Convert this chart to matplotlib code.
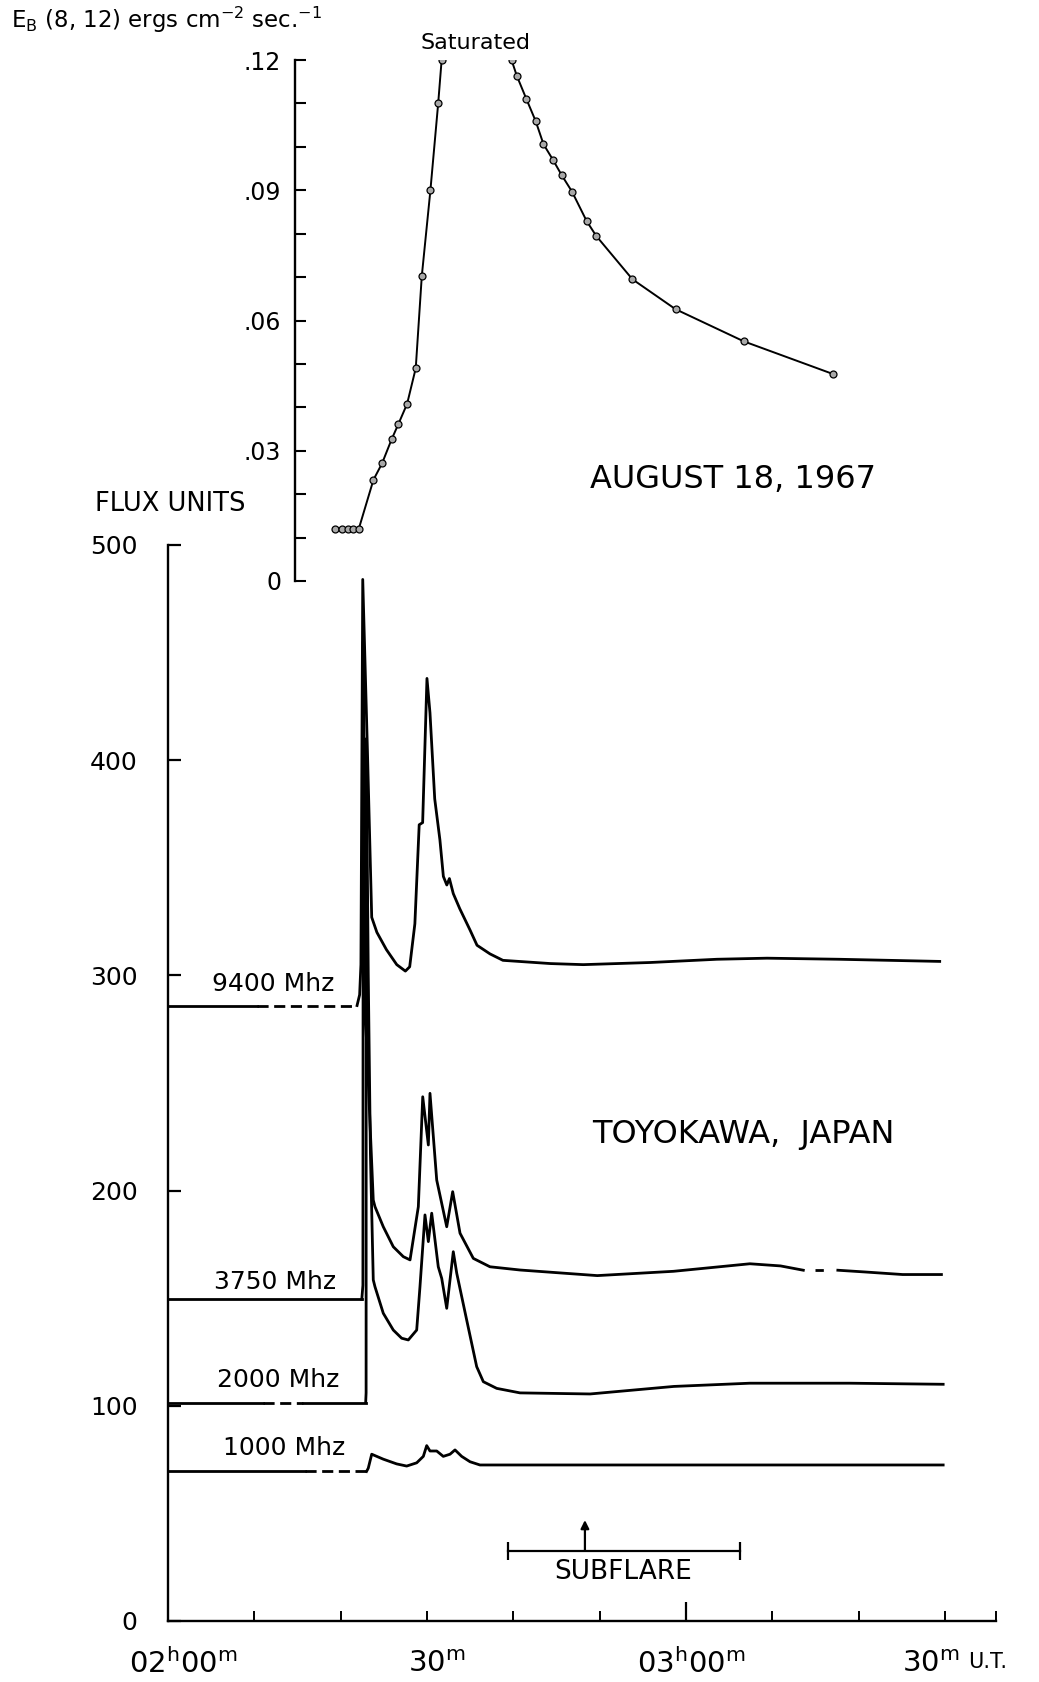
import numpy as np
import matplotlib.pyplot as plt

# all times are minutes after 02h00m U.T.

# soft X-ray flux E_B (8,12) in ergs cm^-2 sec^-1 (top panel)
xray_rise_t = [19.3, 20.1, 20.8, 21.4, 22.1, 23.8, 24.8, 25.9, 26.7, 27.7,
               28.7, 29.4, 30.4, 31.3, 31.7]
xray_rise_v = [0.012, 0.012, 0.012, 0.012, 0.012, 0.0233, 0.0271, 0.0326,
               0.0362, 0.0408, 0.049, 0.0702, 0.090, 0.110, 0.120]
xray_fall_t = [39.8, 40.4, 41.5, 42.6, 43.5, 44.6, 45.6, 46.8, 48.5, 49.6,
               53.8, 58.8, 66.7, 77.0]
xray_fall_v = [0.120, 0.1164, 0.1111, 0.1059, 0.1006, 0.097, 0.0935, 0.0897,
               0.0829, 0.0795, 0.0695, 0.0626, 0.0552, 0.0477]

# radio flux (flux units), Toyokawa
freq_labels = ['9400 Mhz', '3750 Mhz', '2000 Mhz', '1000 Mhz']
pre_levels = [286, 149.5, 101.5, 69.5]
# stretch of the pre-burst record that is drawn dashed
dashed_spans = [(10.3, 21.9), None, (11.0, 15.6), (15.9, 23.0)]

t9400 = [21.9, 22.2, 22.35, 22.56, 23.1, 23.6, 24.2, 25.3, 26.5, 27.5, 28.0,
         28.6, 29.1, 29.5, 30.0, 30.35, 30.9, 31.5, 31.9, 32.3, 32.6, 33.05,
         33.8, 35.0, 35.8, 37.3, 38.8, 44.3, 48.1, 55.9, 63.6, 69.4, 77.7, 89.4]
v9400 = [286, 291, 305, 484, 405, 327, 320, 312, 305, 302, 304,
         324, 370, 371, 438, 422, 382, 363, 346, 342, 345, 338,
         331, 321, 314, 310, 307, 305.5, 305, 306, 307.5, 308, 307.5, 306.5]

t3750 = [22.45, 22.58, 22.62, 22.9, 23.78, 23.98, 24.94, 26.1, 27.26, 28.04,
         29.0, 29.51, 30.16, 30.35, 31.13, 32.29, 32.98, 33.83, 35.37, 37.3,
         40.78, 49.73, 58.57, 67.41, 70.96, 73.6]
v3750 = [149.5, 156, 455, 279, 195.6, 192.5, 183.2, 173.9, 169.3, 167.8,
         192.5, 243.6, 221.2, 245.2, 204.9, 183.2, 199.5, 180.2, 168.5, 164.6,
         163.1, 160.5, 162.5, 166, 165, 163]
t3750_late = [77.6, 80.7, 85.1, 89.6]
v3750_late = [163, 162.2, 161, 161]
t3750_dash = [75.0, 76.4]
v3750_dash = [163, 163]

t2000 = [22.9, 22.95, 22.97, 23.2, 23.45, 23.78, 23.98, 24.94, 26.1, 27.07,
         27.84, 28.81, 29.19, 29.77, 30.16, 30.55, 31.31, 31.71, 32.29, 33.05,
         33.45, 34.6, 35.76, 36.53, 38.08, 40.78, 48.9, 58.6, 67.4, 79.0, 89.8]
v2000 = [101.5, 106, 410, 300, 217, 158.5, 155.3, 143, 135.2, 131.4,
         130.6, 135.2, 155.3, 188.7, 176.3, 189.5, 164.6, 159.2, 145.3, 171.6,
         161.6, 139.9, 118.2, 111.2, 108.1, 106, 105.5, 109, 110.5, 110.5, 110]

t1000 = [23.0, 23.2, 23.6, 24.94, 26.49, 27.65, 28.81, 29.58, 29.97, 30.35,
         31.13, 31.89, 32.67, 33.25, 34.02, 34.99, 36.14, 89.8]
v1000 = [69.5, 71, 77.5, 75.2, 73, 72, 73.5, 76.5, 81.5, 79,
         79, 76.5, 77.5, 79.5, 76.5, 74, 72.5, 72.5]

# H-alpha subflare: start, maximum, end
subflare_t = [39.4, 48.3, 66.3]

xtick_minutes = [0, 30, 60, 90]
xtick_texts = [r'$02^{\mathrm{h}}00^{\mathrm{m}}$', r'$30^{\mathrm{m}}$',
               r'$03^{\mathrm{h}}00^{\mathrm{m}}$', r'$30^{\mathrm{m}}$']

plt.rcParams['font.family'] = ['DejaVu Sans']
plt.rcParams['mathtext.fontset'] = 'dejavusans'

W, H = 1039, 1682
fig = plt.figure(figsize=(W / 100, H / 100), dpi=100)

# frame geometry in pixels
x0_px, x1_px = 168, 996
px_per_min = 8.632
radio_top, radio_bot = 545, 1621
xr_left, xr_top, xr_bot = 295, 60, 581
tmax = (x1_px - x0_px) / px_per_min

ax = fig.add_axes([x0_px / W, 1 - radio_bot / H, (x1_px - x0_px) / W,
                   (radio_bot - radio_top) / H])
ax.set_xlim(0, tmax)
ax.set_ylim(0, 500)

lw = 2.0
series = [(t9400, v9400), (t3750, v3750), (t2000, v2000), (t1000, v1000)]
for (t, v), lvl, span in zip(series, pre_levels, dashed_spans):
    if span is None:
        ax.plot([0, t[0]], [lvl, lvl], 'k-', lw=lw)
    else:
        a, b = span
        ax.plot([0, a], [lvl, lvl], 'k-', lw=lw)
        ax.plot([a, b], [lvl, lvl], 'k', lw=lw, dashes=(4, 2))
        if b < t[0]:
            ax.plot([b, t[0]], [lvl, lvl], 'k-', lw=lw)
    ax.plot(t, v, 'k-', lw=lw)
ax.plot(t3750_late, v3750_late, 'k-', lw=lw)
ax.plot(t3750_dash, v3750_dash, 'k', lw=lw, dashes=(3, 2))

label_pos = [(12.16, 296), (12.45, 157.5), (12.8, 112), (13.44, 80.4)]
for lab, (tx, vy) in zip(freq_labels, label_pos):
    ax.text(tx, vy, lab, ha='center', va='center', fontsize=18)

# subflare bar
sf_level = 32.7
ax.plot([subflare_t[0], subflare_t[2]], [sf_level, sf_level], 'k-', lw=1.6)
ax.plot([subflare_t[0], subflare_t[2]], [sf_level, sf_level], ls='none',
        marker='|', ms=13, mew=1.6, color='k')
ax.annotate('', xy=(subflare_t[1], 46.9), xytext=(subflare_t[1], sf_level),
            arrowprops=dict(arrowstyle='-|>', color='k', lw=1.6,
                            mutation_scale=12, shrinkA=0, shrinkB=0))
ax.text(52.7, 22.8, 'SUBFLARE', ha='center', va='center', fontsize=19)

for s in ['top', 'right']:
    ax.spines[s].set_visible(False)
for s in ['left', 'bottom']:
    ax.spines[s].set_linewidth(1.7)
ax.set_yticks([0, 100, 200, 300, 400, 500])
ax.tick_params(axis='y', direction='in', length=9.4, width=1.6, pad=22,
               labelsize=18)
ax.set_xticks([60])
ax.set_xticks([10, 20, 30, 40, 50, 70, 80, 90, tmax], minor=True)
ax.tick_params(axis='x', which='major', direction='in', length=14, width=1.6,
               labelbottom=False)
ax.tick_params(axis='x', which='minor', direction='in', length=7, width=1.4)

for tm, lab, dx in zip(xtick_minutes, xtick_texts, [10.8, 7.2, 3.6, -10]):
    ax.annotate(lab, xy=(tm, 0), xycoords=('data', 'axes fraction'),
                xytext=(dx, -31), textcoords='offset points',
                ha='center', va='center', fontsize=21)
fig.text(988 / W, 1 - 1662 / H, 'U.T.', ha='center', va='center', fontsize=15)

# X-ray panel
axx = fig.add_axes([xr_left / W, 1 - xr_bot / H, (x1_px - xr_left) / W,
                    (xr_bot - xr_top) / H])
axx.patch.set_visible(False)
axx.set_xlim((xr_left - x0_px) / px_per_min, tmax)
axx.set_ylim(0, 0.12)
mk = dict(marker='o', ms=5, mfc='#a8a8a8', mec='k', mew=0.9)
axx.plot(xray_rise_t, xray_rise_v, 'k-', lw=1.4, **mk)
axx.plot(xray_fall_t, xray_fall_v, 'k-', lw=1.4, **mk)
for s in ['top', 'right', 'bottom']:
    axx.spines[s].set_visible(False)
axx.spines['left'].set_linewidth(1.7)
axx.xaxis.set_visible(False)
axx.set_yticks([0, 0.03, 0.06, 0.09, 0.12])
axx.set_yticklabels(['0', '.03', '.06', '.09', '.12'])
axx.set_yticks(np.arange(0.01, 0.12, 0.01), minor=True)
axx.tick_params(axis='y', which='both', direction='in', length=8, width=1.5)
axx.tick_params(axis='y', which='major', pad=10, labelsize=17)

fig.text(475 / W, 1 - 43 / H, 'Saturated', ha='center', va='center', fontsize=16)
fig.text(11 / W, 1 - 20 / H, r'E$_{\mathrm{B}}$ (8, 12) ergs cm$^{-2}$ sec.$^{-1}$',
         ha='left', va='center', fontsize=16.5)
fig.text(170 / W, 1 - 504 / H, 'FLUX UNITS', ha='center', va='center', fontsize=18.5)
fig.text(733 / W, 1 - 479 / H, 'AUGUST 18, 1967', ha='center', va='center', fontsize=23)
fig.text(743 / W, 1 - 1135 / H, 'TOYOKAWA,  JAPAN', ha='center', va='center', fontsize=23)

fig.savefig('out.png', dpi=100)
